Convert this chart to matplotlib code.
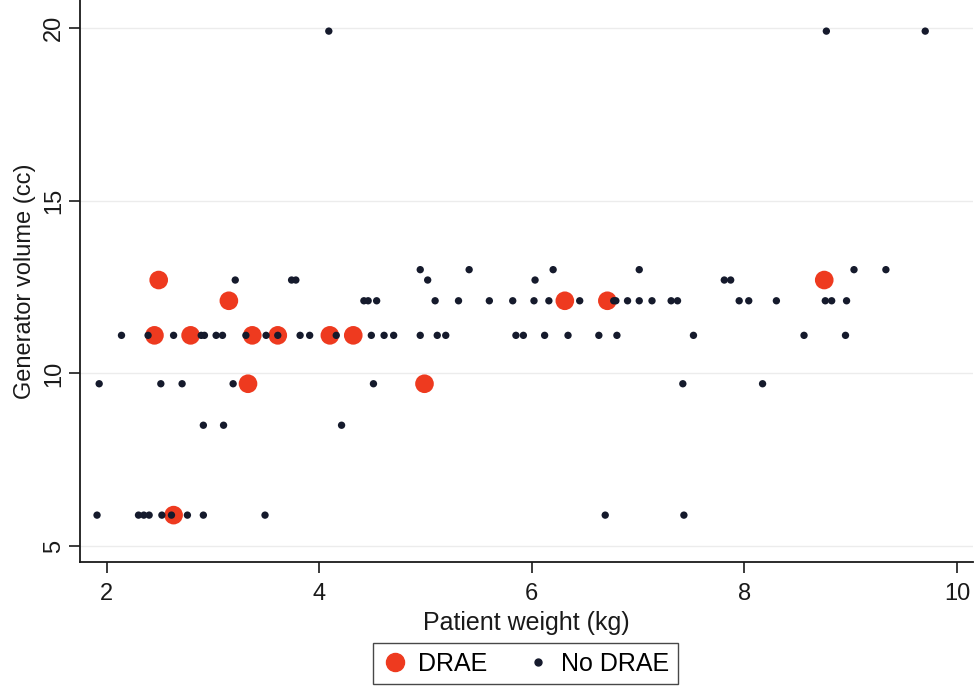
import matplotlib
matplotlib.use("Agg")
import matplotlib.pyplot as plt
from matplotlib.lines import Line2D

plt.rcParams["font.family"] = ["Liberation Sans", "DejaVu Sans"]

# DRAE patients (weight kg, generator volume cc)
drae_x = [2.49, 3.15, 2.45, 2.79, 3.37, 3.61, 4.10, 4.32, 6.31, 6.71, 8.75, 3.33, 4.99, 2.63]
drae_y = [12.7, 12.1, 11.1, 11.1, 11.1, 11.1, 11.1, 11.1, 12.1, 12.1, 12.7, 9.7, 9.7, 5.9]

# No DRAE patients, grouped by generator volume
nodrae_199 = [4.09, 8.77, 9.70]
nodrae_130 = [4.95, 5.41, 6.20, 7.01, 9.03, 9.33]
nodrae_127 = [3.21, 3.74, 3.78, 5.02, 6.03, 7.81, 7.87]
nodrae_121 = [4.42, 4.46, 4.54, 5.09, 5.31, 5.60, 5.82, 6.02, 6.16, 6.45, 6.77, 6.79,
              6.90, 7.01, 7.13, 7.31, 7.37, 7.95, 8.04, 8.30, 8.76, 8.82, 8.96]
nodrae_111 = [2.14, 2.39, 2.63, 2.89, 2.92, 3.03, 3.09, 3.31, 3.50, 3.61, 3.82, 3.91,
              4.16, 4.49, 4.61, 4.70, 4.95, 5.11, 5.19, 5.85, 5.92, 6.12, 6.34, 6.63,
              6.80, 7.52, 8.56, 8.95]
nodrae_97 = [1.93, 2.51, 2.71, 3.19, 4.51, 7.42, 8.17]
nodrae_85 = [2.91, 3.10, 4.21]
nodrae_59 = [1.91, 2.30, 2.35, 2.40, 2.52, 2.61, 2.76, 2.91, 3.49, 6.69, 7.43]

groups = [(19.9, nodrae_199), (13.0, nodrae_130), (12.7, nodrae_127), (12.1, nodrae_121),
          (11.1, nodrae_111), (9.7, nodrae_97), (8.5, nodrae_85), (5.9, nodrae_59)]
nd_x = [x for v, xs in groups for x in xs]
nd_y = [v for v, xs in groups for x in xs]

RED = "#ee3a1f"
DARK = "#151a2c"
INK = "#1a1a1a"

fig = plt.figure(figsize=(9.76, 6.94), dpi=100)
ax = fig.add_axes([0.082, 0.19, 0.915, 0.81])

ax.scatter(drae_x, drae_y, s=180, color=RED, edgecolors="none", zorder=3)
ax.scatter(nd_x, nd_y, s=28, color=DARK, edgecolors="none", zorder=4)

ax.set_xlim(1.75, 10.15)
ax.set_ylim(4.54, 20.8)
ax.set_xticks([2, 4, 6, 8, 10])
ax.set_yticks([5, 10, 15, 20])
ax.tick_params(axis="both", direction="out", length=8, width=1.2, labelsize=17,
               color=INK, labelcolor=INK)
ax.tick_params(axis="x", pad=7)
ax.tick_params(axis="y", labelrotation=90, pad=3)
for lab in ax.get_yticklabels():
    lab.set_va("center")
ax.yaxis.grid(True, color="#ececec", lw=1.0)
ax.set_axisbelow(True)

for side in ["top", "right"]:
    ax.spines[side].set_visible(False)
for side in ["left", "bottom"]:
    ax.spines[side].set_linewidth(1.3)
    ax.spines[side].set_color(INK)

ax.set_xlabel("Patient weight (kg)", fontsize=18, color=INK, labelpad=4)
ax.set_ylabel("Generator volume (cc)", fontsize=17, color=INK, labelpad=5)

handles = [
    Line2D([], [], marker="o", ls="none", color=RED, markersize=13, label="DRAE"),
    Line2D([], [], marker="o", ls="none", color=DARK, markersize=5, label="No DRAE"),
]
fig.legend(handles=handles, loc="lower center", bbox_to_anchor=(0.538, -0.004), ncol=2,
           fontsize=18, frameon=True, fancybox=False, edgecolor=INK,
           handletextpad=0.35, columnspacing=1.5, handlelength=1.1, borderpad=0.35)

fig.savefig("out.png", dpi=100)
